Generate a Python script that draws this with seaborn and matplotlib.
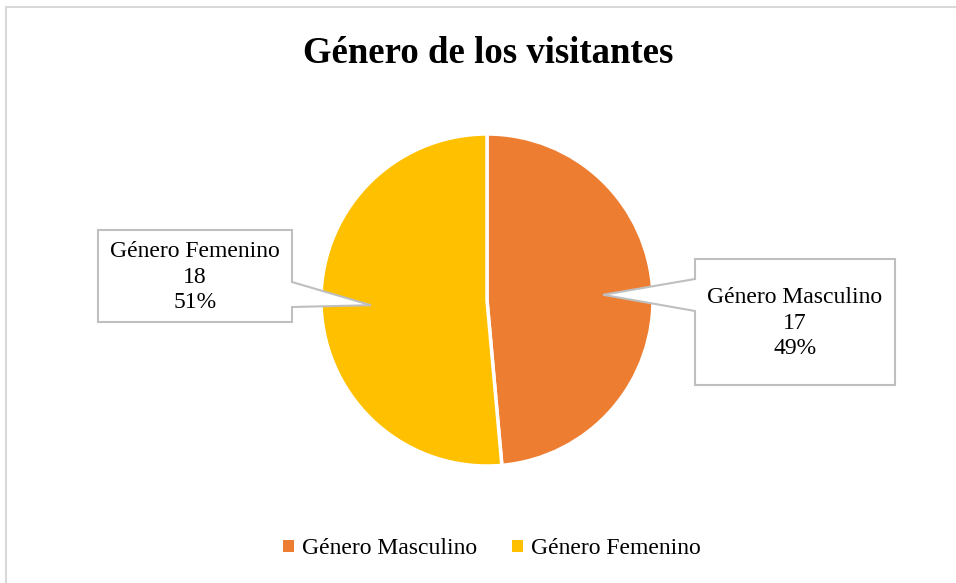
import numpy as np
import matplotlib
matplotlib.use("Agg")
import matplotlib.pyplot as plt
from matplotlib.patches import Polygon, Rectangle, Patch
import seaborn as sns

categories = ["Género Masculino", "Género Femenino"]
counts = [17, 18]
colors = ["#ED7D31", "#FFC000"]
title = "Género de los visitantes"

sns.set_theme(style="white")
plt.rcParams["font.family"] = ["Liberation Serif", "DejaVu Serif"]
plt.rcParams["text.color"] = "black"

W, H = 956, 583
cx, cy, R = 487, 300, 166  # pie centre and radius in pixels

fig = plt.figure(figsize=(W / 100, H / 100), dpi=100)
ax = fig.add_axes([0, 0, 1, 1])
ax.axis("off")


def px(x, y):
    return ((x - cx) / R, (cy - y) / R)


wedges, _ = ax.pie(counts, colors=colors, startangle=90, counterclock=False,
                   radius=1, wedgeprops=dict(edgecolor="white", linewidth=2.5))
ax.set_xlim(-cx / R, (W - cx) / R)
ax.set_ylim((cy - H) / R, cy / R)
ax.set_aspect("equal")

total = sum(counts)
# callout boxes: (left, top, right, bottom) and pointer base on the side nearest the pie
boxes = [(695, 259, 895, 385, 279, 311, "left"),
         (98, 230, 292, 322, 282, 307, "right")]
for w, n, lab, (l, t, r, b, p1, p2, side) in zip(wedges, counts, categories, boxes):
    ang = np.deg2rad((w.theta1 + w.theta2) / 2)
    tip = (0.7 * np.cos(ang), 0.7 * np.sin(ang))
    if side == "left":
        pts = [px(l, t), px(r, t), px(r, b), px(l, b), px(l, p2), tip, px(l, p1)]
    else:
        pts = [px(l, t), px(r, t), px(r, p1), tip, px(r, p2), px(r, b), px(l, b)]
    ax.add_patch(Polygon(pts, closed=True, facecolor="white", edgecolor="#BFBFBF",
                         linewidth=1.5, zorder=5))
    tx, ty = px((l + r) / 2, (t + b) / 2 + 1)
    ax.text(tx, ty, f"{lab}\n{n}\n{round(100 * n / total)}%", ha="center", va="center",
            fontsize=17, linespacing=1.3, color="black", zorder=6)

ax.text(*px(488, 53), title, ha="center", va="center", fontsize=26.5,
        fontweight="bold", color="black")

handles = [Patch(facecolor=c, edgecolor="none", label=l) for c, l in zip(colors, categories)]
fig.legend(handles=handles, loc="center", bbox_to_anchor=(492 / W, 1 - 549 / H), ncol=2,
           frameon=False, fontsize=17, handlelength=0.45, handleheight=0.45,
           handletextpad=0.35, columnspacing=1.5, labelcolor="black")

fig.patches.append(Rectangle((6 / W, -1), 2, 2 - 7 / H, transform=fig.transFigure,
                             fill=False, edgecolor="#D9D9D9", linewidth=1.5))

fig.savefig("out.png", dpi=100)
